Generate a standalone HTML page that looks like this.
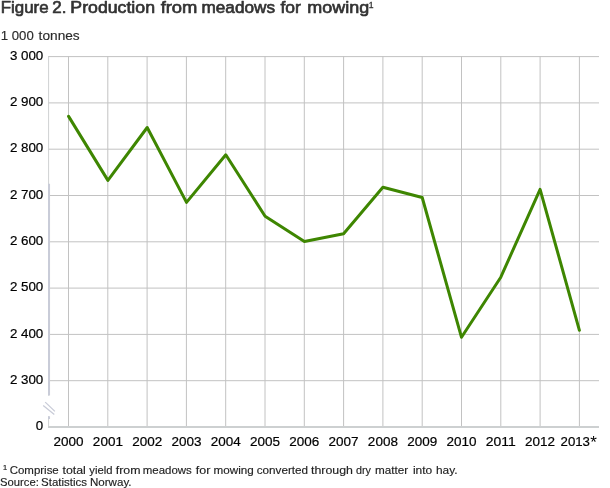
<!DOCTYPE html>
<html>
<head>
<meta charset="utf-8">
<title>Figure 2. Production from meadows for mowing</title>
<style>
html,body{margin:0;padding:0;background:#fff;}
body{width:610px;height:488px;overflow:hidden;font-family:"Liberation Sans",sans-serif;}
svg{display:block;will-change:transform;}
text{font-family:"Liberation Sans",sans-serif;}
</style>
</head>
<body>
<svg width="610" height="488" viewBox="0 0 610 488">
<rect x="0" y="0" width="610" height="488" fill="#ffffff"/>
<g stroke="#c2c2c2" stroke-width="1" fill="none">
<path d="M48 56.60H599M48 102.90H599M48 149.20H599M48 195.50H599M48 241.80H599M48 288.10H599M48 334.40H599M48 380.70H599"/>
<path d="M68.50 56.1V427M107.80 56.1V427M147.10 56.1V427M186.40 56.1V427M225.70 56.1V427M265.00 56.1V427M304.30 56.1V427M343.60 56.1V427M382.90 56.1V427M422.20 56.1V427M461.50 56.1V427M500.80 56.1V427M540.10 56.1V427M579.40 56.1V427"/>
<path d="M48.6 56.1V395.6M48.6 416.2V428" stroke="#cfd1d2"/>
<path d="M48.1 427H599" stroke-width="2" stroke="#cdd0d1"/>
</g>
<g stroke="#c9ccd8" fill="none">
<path d="M49.05 183.8V395.6M49.05 416.2V419" stroke-width="2"/>
<path d="M43.2 405.4L54.3 414.6M45.2 402.1L54.9 411.4" stroke-width="1.3"/>
</g>
<path d="M68.6 116.4L107.9 180.4L147.2 127.5L186.5 202.4L225.8 154.8L265.1 216.2L304.4 241.5L343.6 233.7L382.9 187.3L422.2 197.5L461.5 337.3L500.8 277.2L540.1 189.3L579.4 330.3" fill="none" stroke="#3e8601" stroke-width="3" stroke-linejoin="round" stroke-linecap="round"/>
<text x="0.73" y="13.00" font-size="16.2" fill="#333333" stroke="#333333" stroke-width="0.65" stroke-linejoin="round" textLength="47.92" lengthAdjust="spacingAndGlyphs">Figure</text>
<text x="52.36" y="13.00" font-size="16.2" fill="#333333" stroke="#333333" stroke-width="0.65" stroke-linejoin="round" textLength="14.12" lengthAdjust="spacingAndGlyphs">2.</text>
<text x="70.37" y="13.00" font-size="16.2" fill="#333333" stroke="#333333" stroke-width="0.65" stroke-linejoin="round" textLength="84.62" lengthAdjust="spacingAndGlyphs">Production</text>
<text x="160.65" y="13.00" font-size="16.2" fill="#333333" stroke="#333333" stroke-width="0.65" stroke-linejoin="round" textLength="36.74" lengthAdjust="spacingAndGlyphs">from</text>
<text x="201.52" y="13.00" font-size="16.2" fill="#333333" stroke="#333333" stroke-width="0.65" stroke-linejoin="round" textLength="73.51" lengthAdjust="spacingAndGlyphs">meadows</text>
<text x="280.46" y="13.00" font-size="16.2" fill="#333333" stroke="#333333" stroke-width="0.65" stroke-linejoin="round" textLength="20.39" lengthAdjust="spacingAndGlyphs">for</text>
<text x="307.37" y="13.00" font-size="16.2" fill="#333333" stroke="#333333" stroke-width="0.65" stroke-linejoin="round" textLength="61.84" lengthAdjust="spacingAndGlyphs">mowing</text>
<text x="368.79" y="7.70" font-size="8.6" fill="#333333" stroke="#333333" stroke-width="0.3">1</text>
<text x="0.76" y="40.00" font-size="13.3" fill="#2a2a2a" stroke="#2a2a2a" stroke-width="0.15">1</text>
<text x="11.76" y="40.00" font-size="13.3" fill="#2a2a2a" stroke="#2a2a2a" stroke-width="0.15" textLength="21.98" lengthAdjust="spacingAndGlyphs">000</text>
<text x="38.63" y="40.00" font-size="13.3" fill="#2a2a2a" stroke="#2a2a2a" stroke-width="0.15" textLength="41.08" lengthAdjust="spacingAndGlyphs">tonnes</text>
<text x="3.02" y="469.80" font-size="7.4" fill="#222222" stroke="#222222" stroke-width="0.2">1</text>
<text x="9.71" y="473.80" font-size="11.3" fill="#222222" stroke="#222222" stroke-width="0.15" textLength="49.03" lengthAdjust="spacingAndGlyphs">Comprise</text>
<text x="62.44" y="473.80" font-size="11.3" fill="#222222" stroke="#222222" stroke-width="0.15" textLength="23.40" lengthAdjust="spacingAndGlyphs">total</text>
<text x="89.36" y="473.80" font-size="11.3" fill="#222222" stroke="#222222" stroke-width="0.15" textLength="23.07" lengthAdjust="spacingAndGlyphs">yield</text>
<text x="115.80" y="473.80" font-size="11.3" fill="#222222" stroke="#222222" stroke-width="0.15" textLength="24.70" lengthAdjust="spacingAndGlyphs">from</text>
<text x="142.84" y="473.80" font-size="11.3" fill="#222222" stroke="#222222" stroke-width="0.15" textLength="48.99" lengthAdjust="spacingAndGlyphs">meadows</text>
<text x="195.85" y="473.80" font-size="11.3" fill="#222222" stroke="#222222" stroke-width="0.15" textLength="14.55" lengthAdjust="spacingAndGlyphs">for</text>
<text x="213.63" y="473.80" font-size="11.3" fill="#222222" stroke="#222222" stroke-width="0.15" textLength="40.22" lengthAdjust="spacingAndGlyphs">mowing</text>
<text x="256.75" y="473.80" font-size="11.3" fill="#222222" stroke="#222222" stroke-width="0.15" textLength="51.39" lengthAdjust="spacingAndGlyphs">converted</text>
<text x="310.99" y="473.80" font-size="11.3" fill="#222222" stroke="#222222" stroke-width="0.15" textLength="41.96" lengthAdjust="spacingAndGlyphs">through</text>
<text x="355.90" y="473.80" font-size="11.3" fill="#222222" stroke="#222222" stroke-width="0.15" textLength="14.98" lengthAdjust="spacingAndGlyphs">dry</text>
<text x="375.10" y="473.80" font-size="11.3" fill="#222222" stroke="#222222" stroke-width="0.15" textLength="33.17" lengthAdjust="spacingAndGlyphs">matter</text>
<text x="412.95" y="473.80" font-size="11.3" fill="#222222" stroke="#222222" stroke-width="0.15" textLength="19.33" lengthAdjust="spacingAndGlyphs">into</text>
<text x="435.96" y="473.80" font-size="11.3" fill="#222222" stroke="#222222" stroke-width="0.15" textLength="21.57" lengthAdjust="spacingAndGlyphs">hay.</text>
<text x="0.07" y="485.60" font-size="11.3" fill="#222222" stroke="#222222" stroke-width="0.15" textLength="38.83" lengthAdjust="spacingAndGlyphs">Source:</text>
<text x="41.05" y="485.60" font-size="11.3" fill="#222222" stroke="#222222" stroke-width="0.15" textLength="45.95" lengthAdjust="spacingAndGlyphs">Statistics</text>
<text x="89.96" y="485.60" font-size="11.3" fill="#222222" stroke="#222222" stroke-width="0.15" textLength="41.60" lengthAdjust="spacingAndGlyphs">Norway.</text>
<text x="9.98" y="59.80" font-size="13.3" fill="#000000" stroke="#000000" stroke-width="0.2">3</text>
<text x="20.96" y="59.80" font-size="13.3" fill="#000000" stroke="#000000" stroke-width="0.2" textLength="22.32" lengthAdjust="spacingAndGlyphs">000</text>
<text x="10.01" y="106.10" font-size="13.3" fill="#000000" stroke="#000000" stroke-width="0.2">2</text>
<text x="20.96" y="106.10" font-size="13.3" fill="#000000" stroke="#000000" stroke-width="0.2" textLength="22.32" lengthAdjust="spacingAndGlyphs">900</text>
<text x="10.01" y="152.40" font-size="13.3" fill="#000000" stroke="#000000" stroke-width="0.2">2</text>
<text x="20.96" y="152.40" font-size="13.3" fill="#000000" stroke="#000000" stroke-width="0.2" textLength="22.32" lengthAdjust="spacingAndGlyphs">800</text>
<text x="10.01" y="198.70" font-size="13.3" fill="#000000" stroke="#000000" stroke-width="0.2">2</text>
<text x="20.96" y="198.70" font-size="13.3" fill="#000000" stroke="#000000" stroke-width="0.2" textLength="22.32" lengthAdjust="spacingAndGlyphs">700</text>
<text x="10.01" y="245.00" font-size="13.3" fill="#000000" stroke="#000000" stroke-width="0.2">2</text>
<text x="20.96" y="245.00" font-size="13.3" fill="#000000" stroke="#000000" stroke-width="0.2" textLength="22.32" lengthAdjust="spacingAndGlyphs">600</text>
<text x="10.01" y="291.30" font-size="13.3" fill="#000000" stroke="#000000" stroke-width="0.2">2</text>
<text x="20.96" y="291.30" font-size="13.3" fill="#000000" stroke="#000000" stroke-width="0.2" textLength="22.32" lengthAdjust="spacingAndGlyphs">500</text>
<text x="10.01" y="337.60" font-size="13.3" fill="#000000" stroke="#000000" stroke-width="0.2">2</text>
<text x="20.96" y="337.60" font-size="13.3" fill="#000000" stroke="#000000" stroke-width="0.2" textLength="22.32" lengthAdjust="spacingAndGlyphs">400</text>
<text x="10.01" y="383.90" font-size="13.3" fill="#000000" stroke="#000000" stroke-width="0.2">2</text>
<text x="20.96" y="383.90" font-size="13.3" fill="#000000" stroke="#000000" stroke-width="0.2" textLength="22.32" lengthAdjust="spacingAndGlyphs">300</text>
<text x="35.78" y="430.10" font-size="13.3" fill="#000000" stroke="#000000" stroke-width="0.2">0</text>
<text x="53.60" y="446.00" font-size="13.3" fill="#000000" stroke="#000000" stroke-width="0.2" textLength="30.02" lengthAdjust="spacingAndGlyphs">2000</text>
<text x="92.89" y="446.00" font-size="13.3" fill="#000000" stroke="#000000" stroke-width="0.2" textLength="30.02" lengthAdjust="spacingAndGlyphs">2001</text>
<text x="132.17" y="446.00" font-size="13.3" fill="#000000" stroke="#000000" stroke-width="0.2" textLength="30.02" lengthAdjust="spacingAndGlyphs">2002</text>
<text x="171.46" y="446.00" font-size="13.3" fill="#000000" stroke="#000000" stroke-width="0.2" textLength="30.02" lengthAdjust="spacingAndGlyphs">2003</text>
<text x="210.74" y="446.00" font-size="13.3" fill="#000000" stroke="#000000" stroke-width="0.2" textLength="30.02" lengthAdjust="spacingAndGlyphs">2004</text>
<text x="250.03" y="446.00" font-size="13.3" fill="#000000" stroke="#000000" stroke-width="0.2" textLength="30.02" lengthAdjust="spacingAndGlyphs">2005</text>
<text x="289.32" y="446.00" font-size="13.3" fill="#000000" stroke="#000000" stroke-width="0.2" textLength="30.02" lengthAdjust="spacingAndGlyphs">2006</text>
<text x="328.60" y="446.00" font-size="13.3" fill="#000000" stroke="#000000" stroke-width="0.2" textLength="30.02" lengthAdjust="spacingAndGlyphs">2007</text>
<text x="367.89" y="446.00" font-size="13.3" fill="#000000" stroke="#000000" stroke-width="0.2" textLength="30.02" lengthAdjust="spacingAndGlyphs">2008</text>
<text x="407.17" y="446.00" font-size="13.3" fill="#000000" stroke="#000000" stroke-width="0.2" textLength="30.02" lengthAdjust="spacingAndGlyphs">2009</text>
<text x="446.46" y="446.00" font-size="13.3" fill="#000000" stroke="#000000" stroke-width="0.2" textLength="30.02" lengthAdjust="spacingAndGlyphs">2010</text>
<text x="485.75" y="446.00" font-size="13.3" fill="#000000" stroke="#000000" stroke-width="0.2" textLength="30.02" lengthAdjust="spacingAndGlyphs">2011</text>
<text x="525.03" y="446.00" font-size="13.3" fill="#000000" stroke="#000000" stroke-width="0.2" textLength="30.02" lengthAdjust="spacingAndGlyphs">2012</text>
<text x="560.54" y="446.00" font-size="13.3" fill="#000000" stroke="#000000" stroke-width="0.2" textLength="29.47" lengthAdjust="spacingAndGlyphs">2013</text>
<text x="590.36" y="448.40" font-size="17" fill="#000000">*</text>
</svg>
</body>
</html>
